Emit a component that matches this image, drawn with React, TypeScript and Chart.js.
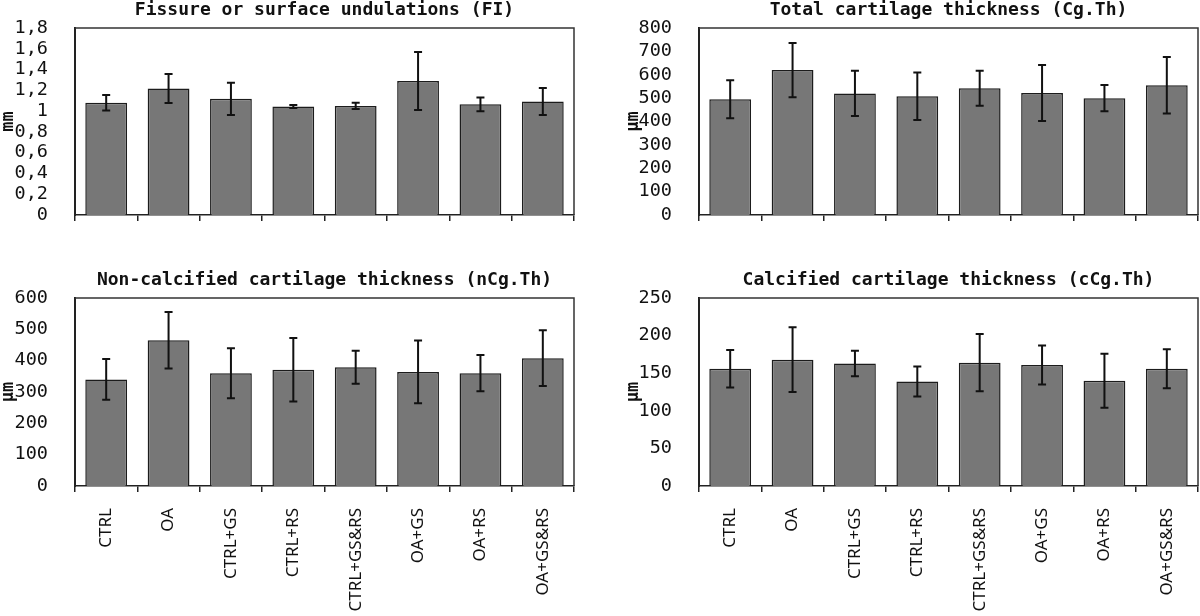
import React, { useEffect, useRef } from "react";
import { Chart, registerables } from "chart.js";

Chart.register(...registerables);

// ---- data ----
const categories = ["CTRL", "OA", "CTRL+GS", "CTRL+RS", "CTRL+GS&RS", "OA+GS", "OA+RS", "OA+GS&RS"];

const fiMean = [1.08, 1.217, 1.118, 1.045, 1.05, 1.29, 1.065, 1.093];
const fiErr = [0.075, 0.14, 0.155, 0.015, 0.03, 0.28, 0.067, 0.13];

const cgMean = [495, 620, 520, 508, 542, 522, 500, 555];
const cgErr = [81, 116, 97, 102, 75, 120, 56, 121];

const ncgMean = [340, 465, 360, 371, 379, 364, 360, 408];
const ncgErr = [65, 90, 80, 101, 53, 100, 58, 89];

const ccgMean = [156, 168, 163, 139, 164, 161, 140, 156];
const ccgErr = [25, 43, 17, 20, 38, 26, 36, 26];

const fiTicks = { min: 0, max: 1.8, step: 0.2 };
const cgTicks = { min: 0, max: 800, step: 100 };
const ncgTicks = { min: 0, max: 600, step: 100 };
const ccgTicks = { min: 0, max: 250, step: 50 };

const fiTitle = "Fissure or surface undulations (FI)";
const cgTitle = "Total cartilage thickness (Cg.Th)";
const ncgTitle = "Non-calcified cartilage thickness (nCg.Th)";
const ccgTitle = "Calcified cartilage thickness (cCg.Th)";

// ---- plugins ----
const errorBarPlugin = {
  id: "errorBars",
  afterDatasetsDraw(chart: any) {
    const errs: number[] = chart.options.plugins.errorBars?.errors || [];
    const meta = chart.getDatasetMeta(0);
    const ys = chart.scales.y;
    const ctx = chart.ctx;
    const vals = chart.data.datasets[0].data as number[];
    ctx.save();
    ctx.strokeStyle = "#111";
    ctx.lineWidth = 2;
    meta.data.forEach((bar: any, i: number) => {
      const x = bar.x;
      const top = ys.getPixelForValue(vals[i] + errs[i]);
      const bot = ys.getPixelForValue(vals[i] - errs[i]);
      ctx.beginPath();
      ctx.moveTo(x, top);
      ctx.lineTo(x, bot);
      ctx.moveTo(x - 4, top);
      ctx.lineTo(x + 4, top);
      ctx.moveTo(x - 4, bot);
      ctx.lineTo(x + 4, bot);
      ctx.stroke();
    });
    ctx.restore();
  },
};

const frameBoxPlugin = {
  id: "frameBox",
  afterDraw(chart: any) {
    const { left, right, top, bottom } = chart.chartArea;
    const ctx = chart.ctx;
    ctx.save();
    ctx.strokeStyle = "#333";
    ctx.lineWidth = 1.5;
    ctx.beginPath();
    ctx.moveTo(left, top);
    ctx.lineTo(right, top);
    ctx.lineTo(right, bottom);
    ctx.stroke();
    ctx.restore();
  },
};

const fmt = (v: number) => {
  const r = Math.round(v * 10) / 10;
  return String(r).replace(".", ",");
};

type PanelProps = {
  left: number;
  top: number;
  width: number;
  height: number;
  title: string;
  yTitle: string;
  means: number[];
  errs: number[];
  ticks: { min: number; max: number; step: number };
  showLabels: boolean;
  padLeft: number;
  padRight: number;
  yWidth: number;
  xHeight: number;
};

function Panel(p: PanelProps) {
  const ref = useRef<HTMLCanvasElement>(null);
  useEffect(() => {
    if (!ref.current) return;
    const chart = new Chart(ref.current, {
      type: "bar",
      data: {
        labels: categories,
        datasets: [
          {
            data: p.means,
            backgroundColor: "#777777",
            borderColor: "#1c1c1c",
            borderWidth: 1.5,
            barPercentage: 0.67,
            categoryPercentage: 1,
          },
        ],
      },
      options: {
        responsive: false,
        animation: false,
        devicePixelRatio: 1,
        layout: { padding: { left: p.padLeft, right: p.padRight, top: 0, bottom: 0 } },
        plugins: {
          legend: { display: false },
          tooltip: { enabled: false },
          title: {
            display: true,
            text: p.title,
            fullSize: false,
            color: "#111",
            font: { family: "'DejaVu Sans Mono', monospace", size: 18, weight: "bold" },
            padding: { top: 0, bottom: 6.4 },
          },
          errorBars: { errors: p.errs },
        } as any,
        scales: {
          x: {
            grid: {
              display: true,
              drawOnChartArea: false,
              drawTicks: true,
              tickLength: 6,
              offset: true,
              color: "#222",
              lineWidth: 1.5,
            },
            border: { display: true, color: "#222", width: 1.5 },
            ticks: {
              display: p.showLabels,
              autoSkip: false,
              minRotation: 90,
              maxRotation: 90,
              padding: 16,
              color: "#111",
              font: { family: "'Noto Sans', sans-serif", size: 17 },
            },
            afterFit: (s: any) => {
              s.height = p.xHeight;
              s.paddingLeft = 0;
              s.paddingRight = 0;
            },
          },
          y: {
            min: p.ticks.min,
            max: p.ticks.max,
            grid: { display: false },
            border: { display: true, color: "#222", width: 2 },
            ticks: {
              stepSize: p.ticks.step,
              autoSkip: false,
              padding: 19,
              color: "#111",
              font: { family: "'DejaVu Sans Mono', monospace", size: 18.5 },
              callback: (v: any) => fmt(Number(v)),
            },
            title: {
              display: true,
              text: p.yTitle,
              color: "#111",
              padding: { top: 0, bottom: 0 },
              font: { family: "'DejaVu Sans Mono', monospace", size: 17, weight: "bold", lineHeight: 1 },
            },
            afterFit: (s: any) => {
              s.width = p.yWidth;
              s.paddingTop = 0;
              s.paddingBottom = 0;
            },
          },
        },
      } as any,
      plugins: [errorBarPlugin, frameBoxPlugin],
    });
    return () => chart.destroy();
  }, []);
  return (
    <canvas
      ref={ref}
      width={p.width}
      height={p.height}
      style={{ position: "absolute", left: p.left, top: p.top, width: p.width, height: p.height }}
    />
  );
}

export default function App() {
  return (
    <div
      style={{
        position: "fixed",
        left: 0,
        top: 0,
        width: 1200,
        height: 616,
        background: "#fff",
        overflow: "hidden",
      }}
    >
      <Panel left={0} top={0} width={600} height={230} title={fiTitle} yTitle="mm" means={fiMean} errs={fiErr}
        ticks={fiTicks} showLabels={false} padLeft={0} padRight={26} yWidth={75} xHeight={15} />
      <Panel left={600} top={0} width={600} height={230} title={cgTitle} yTitle="µm" means={cgMean} errs={cgErr}
        ticks={cgTicks} showLabels={false} padLeft={25} padRight={2} yWidth={74} xHeight={15} />
      <Panel left={0} top={270} width={600} height={346} title={ncgTitle} yTitle="µm" means={ncgMean} errs={ncgErr}
        ticks={ncgTicks} showLabels={true} padLeft={0} padRight={26} yWidth={75} xHeight={130} />
      <Panel left={600} top={270} width={600} height={346} title={ccgTitle} yTitle="µm" means={ccgMean} errs={ccgErr}
        ticks={ccgTicks} showLabels={true} padLeft={25} padRight={2} yWidth={74} xHeight={130} />
    </div>
  );
}
